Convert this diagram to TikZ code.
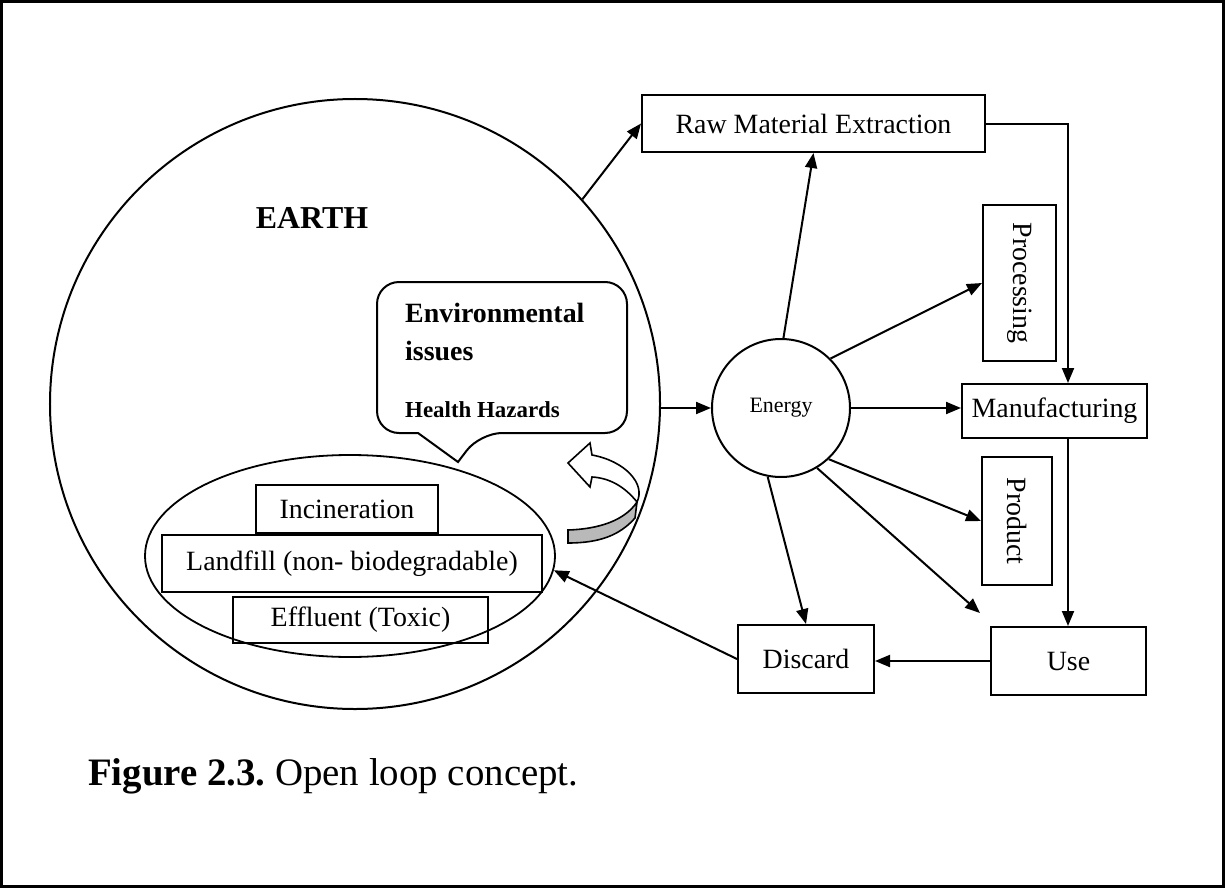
\documentclass[tikz,border=0pt]{standalone}
\usepackage{fontspec}
\usepackage{graphicx}
\setmainfont{Liberation Serif}
\usetikzlibrary{arrows.meta,shapes.geometric}
\frenchspacing
\begin{document}
\begin{tikzpicture}[x=1bp,y=-1bp,
  box/.style={draw,line width=2bp,inner sep=0pt,font=\fontsize{28}{30}\selectfont},
  arr/.style={line width=2bp,-{Triangle[length=15bp,width=12bp]}},
  lbl/.style={inner sep=0pt,anchor=base west}]
\useasboundingbox (0,0) rectangle (1225,888);
\draw[line width=2.2bp] (1.5,1.5) rectangle (1223.5,886.5);

% Earth and inner parts
\node[draw,circle,line width=2bp,minimum size=610bp,inner sep=0pt] (earth) at (355,404) {};
\node[inner sep=0pt,font=\fontsize{32}{36}\selectfont\bfseries] (earthlbl) at (312,218) {EARTH};
\node[draw,ellipse,line width=1.8bp,minimum width=410bp,minimum height=202bp,inner sep=0pt] (ell) at (350,556) {};
\node[box,minimum width=182bp,minimum height=48bp] (inc) at (347,509) {Incineration};
\node[box,minimum width=380bp,minimum height=57bp] (land) at (352,563.5) {Landfill (non- biodegradable)};
\node[box,minimum width=255bp,minimum height=46bp] (eff) at (360.5,620) {Effluent (Toxic)};

% speech bubble
\draw[line width=2bp] (418,433) [rounded corners=22bp] -- (377,433) -- (377,282) -- (627,282) -- (627,433) -- (480,433) [sharp corners] -- (458,462) -- cycle;
\node[lbl,font=\fontsize{28}{32}\selectfont\bfseries] (env) at (405,322) {Environmental};
\node[lbl,font=\fontsize{28}{32}\selectfont\bfseries] (iss) at (405,360) {issues};
\node[lbl,font=\fontsize{23}{26}\selectfont\bfseries] (hh) at (405,417) {Health Hazards};

% curved ribbon arrow
\draw[line width=1.6bp,fill=gray!55] (568,530) .. controls (600,529) and (625,520) .. (637,502) -- (635,518) .. controls (620,535) and (600,543) .. (568,543) -- cycle;
\draw[line width=1.6bp,fill=white] (568,463) -- (590,443) -- (592,455) .. controls (625,461) and (646,484) .. (637,502) .. controls (625,487) and (610,478) .. (592,477) -- (590,487) -- cycle;

% right side
\node[draw,circle,line width=2bp,minimum size=138bp,inner sep=0pt,font=\fontsize{22}{26}\selectfont] (energy) at (781,408) {Energy};
\node[box,minimum width=343bp,minimum height=57bp] (raw) at (813.5,123.5) {Raw Material Extraction};
\node[box,minimum width=73bp,minimum height=156bp] (proc) at (1019.5,283) {\rotatebox{-90}{Processing}};
\node[box,minimum width=185bp,minimum height=54bp] (manu) at (1054.5,411) {Manufacturing};
\node[box,minimum width=70bp,minimum height=128bp] (prod) at (1017,521) {\rotatebox{-90}{Product}};
\node[box,minimum width=155bp,minimum height=68bp] (use) at (1068.5,661) {Use};
\node[box,minimum width=136bp,minimum height=68bp] (disc) at (806,659) {Discard};

\coordinate (mx) at (1068,0);
\coordinate (usetip) at (980,613);

% connectors
\draw[arr] (earth.42.7) -- (raw.west);
\draw[arr] (energy.east) -- (energy.east -| manu.west);
\draw[arr] (energy.west -| earth.east) -- (energy.west);
\draw[arr] (energy.88) -- (raw.south);
\draw[arr] (energy.45.6) -- (proc.west);
\draw[arr] (energy.-47) -- (prod.west);
\draw[arr] (energy.-59) -- (usetip);
\draw[arr] (energy.-101) -- (disc.north);
\draw[arr] (raw.east) -| (mx |- manu.north);
\draw[arr] (mx |- manu.south) -- (mx |- use.north);
\draw[arr] (use.west) -- (use.west -| disc.east);
\draw[arr] (disc.west) -- (ell.-4);

% caption
\node[lbl,font=\fontsize{39}{44}\selectfont] (cap) at (88,785) {\textbf{Figure 2.3.} Open loop concept.};
\end{tikzpicture}
\end{document}
